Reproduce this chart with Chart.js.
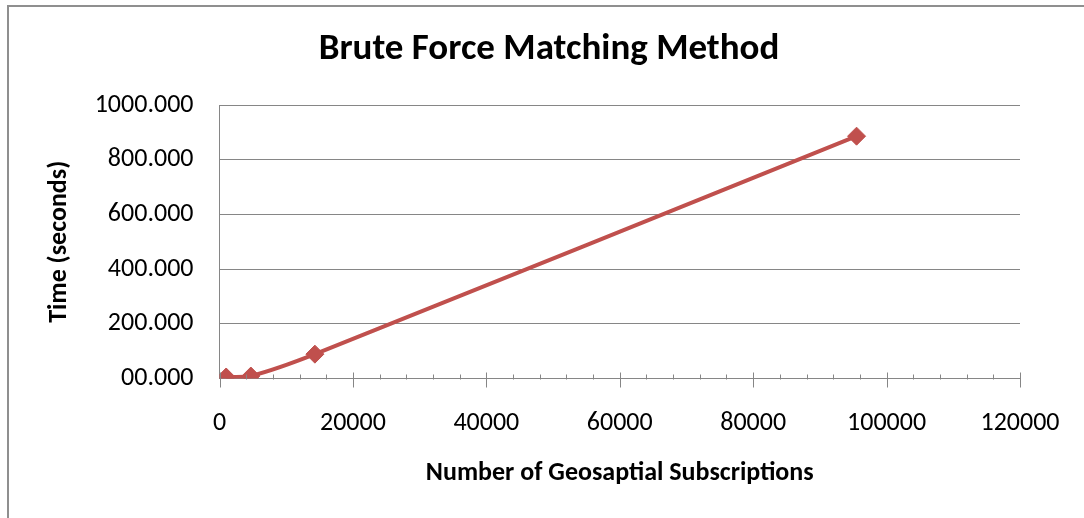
<!DOCTYPE html>
<html>
<head>
<meta charset="utf-8">
<script src="https://cdn.jsdelivr.net/npm/chart.js@4/dist/chart.umd.min.js"></script>
<style>
  html, body { margin: 0; padding: 0; background: #fff; }
  #wrap { width: 1084px; height: 518px; position: relative; }
</style>
</head>
<body>
<div id="wrap"><canvas id="bruteChart"></canvas></div>
<script>
// Brute force matching timing
const subscriptions = [1000, 4700, 14300, 95500];
const timeSeconds   = [5.5, 9, 89, 886];

const xTicks = [0, 20000, 40000, 60000, 80000, 100000, 120000];
const yTicks = [0, 200, 400, 600, 800, 1000];

const FONT = 'Carlito, Calibri, Lato, sans-serif';
const AXIS_GREY = '#868686';
const RED = '#C0504D';

// outer chart frame (Excel style)
const framePlugin = {
  id: 'frame',
  beforeDraw(chart) {
    const ctx = chart.ctx;
    ctx.save();
    ctx.fillStyle = '#fff';
    ctx.fillRect(0, 0, chart.width, chart.height);
    ctx.strokeStyle = '#8f8f8f';
    ctx.lineWidth = 2;
    ctx.strokeRect(8, 6, chart.width + 50, chart.height + 50);
    ctx.restore();
  }
};

// major (crossing) and minor (inside) tick marks on the x axis
const xTickMarks = {
  id: 'xTickMarks',
  afterDatasetsDraw(chart) {
    const x = chart.scales.x;
    const y0 = Math.round(chart.scales.y.getPixelForValue(0)) + 0.5;
    const ctx = chart.ctx;
    ctx.save();
    ctx.strokeStyle = AXIS_GREY;
    ctx.lineWidth = 1;
    ctx.beginPath();
    for (let v = 0; v <= 120000; v += 4000) {
      const px = Math.round(x.getPixelForValue(v)) + 0.5;
      if (v % 20000 === 0) {
        ctx.moveTo(px, y0 - 7);
        ctx.lineTo(px, y0 + 8);
      } else {
        ctx.moveTo(px, y0 - 5);
        ctx.lineTo(px, y0);
      }
    }
    ctx.stroke();
    ctx.restore();
  }
};

function init() {
  const ctx = document.getElementById('bruteChart').getContext('2d');

  new Chart(ctx, {
    type: 'scatter',
    data: {
      datasets: [{
        label: 'Time',
        data: subscriptions.map((s, i) => ({ x: s, y: timeSeconds[i] })),
        showLine: true,
        borderColor: RED,
        backgroundColor: RED,
        borderWidth: 4,
        tension: 0.25,
        pointStyle: 'rectRot',
        pointRadius: 9,
        pointBorderWidth: 1,
        pointBorderColor: RED,
        pointBackgroundColor: RED
      }]
    },
    options: {
      responsive: true,
      maintainAspectRatio: false,
      animation: false,
      // left padding shifts the title centre to match the reference
      layout: { padding: { left: 78, right: 64, top: 0, bottom: 0 } },
      plugins: {
        legend: { display: false },
        tooltip: { enabled: false },
        title: {
          display: true,
          text: 'Brute Force Matching Method',
          color: '#000',
          font: { family: FONT, size: 37, weight: 'bold', lineHeight: 1.2 },
          padding: { top: 28, bottom: 32.6 }
        }
      },
      scales: {
        x: {
          type: 'linear',
          min: 0,
          max: 120000,
          afterFit(scale) {
            scale.height = 139.5;
            scale.paddingLeft = 0;
            scale.paddingRight = 0;
          },
          afterBuildTicks(scale) { scale.ticks = xTicks.map(v => ({ value: v })); },
          ticks: {
            color: '#000',
            padding: 29,
            maxRotation: 0,
            font: { family: FONT, size: 26 },
            callback: v => String(v)
          },
          grid: { display: true, drawOnChartArea: false, drawTicks: false, color: AXIS_GREY },
          border: { display: true, color: AXIS_GREY, width: 1 },
          title: {
            display: true,
            text: 'Number of Geosaptial Subscriptions',
            color: '#000',
            font: { family: FONT, size: 26, weight: 'bold', lineHeight: 1.2 },
            padding: { top: 0, bottom: 29.4 }
          }
        },
        y: {
          type: 'linear',
          min: 0,
          max: 1000,
          afterFit(scale) { scale.width = 141.5; },
          afterBuildTicks(scale) { scale.ticks = yTicks.map(v => ({ value: v })); },
          ticks: {
            color: '#000',
            padding: 26,
            font: { family: FONT, size: 26 },
            callback: v => (v < 10 ? '00' : '') + (v === 0 ? '.000' : v.toFixed(3))
          },
          grid: { color: AXIS_GREY, lineWidth: 1, drawTicks: false },
          border: { display: true, color: AXIS_GREY, width: 1 },
          title: {
            display: true,
            text: 'Time (seconds)',
            color: '#000',
            font: { family: FONT, size: 26, weight: 'bold', lineHeight: 1.2 },
            padding: { top: -34.6, bottom: 0 }
          }
        }
      }
    },
    plugins: [framePlugin, xTickMarks]
  });
}

if (document.readyState === 'loading') {
  document.addEventListener('DOMContentLoaded', init);
} else {
  init();
}
</script>
</body>
</html>
